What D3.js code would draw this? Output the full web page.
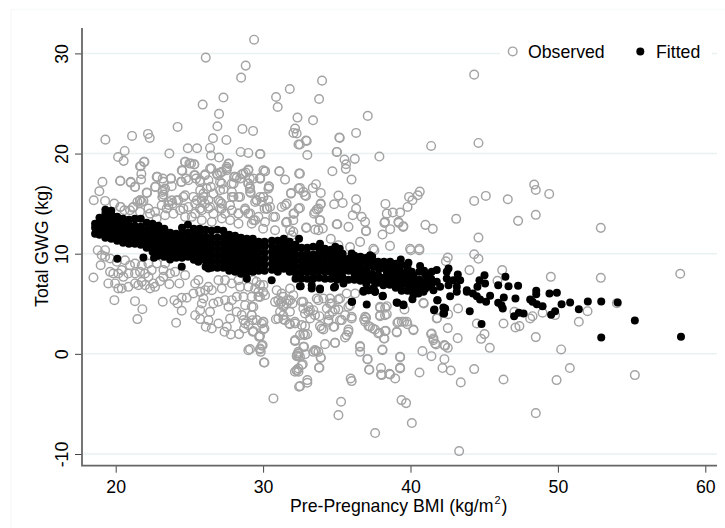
<!DOCTYPE html>
<html>
<head>
<meta charset="utf-8">
<script src="https://cdn.jsdelivr.net/npm/d3@7/dist/d3.min.js"></script>
<style>
html,body{margin:0;padding:0;background:#fff;}
svg{display:block;font-family:"Liberation Sans",Arial,sans-serif;}
</style>
</head>
<body>
<svg id="chart" width="725" height="528"></svg>
<script>
const xTicks = [20, 30, 40, 50, 60];
const yTicks = [-10, 0, 10, 20, 30];
const seriesNames = ["Observed", "Fitted"];
const xTitle = "Pre-Pregnancy BMI (kg/m";
const yTitle = "Total GWG (kg)";

const observedUpper = [
[29.39,31.37],[26.11,29.58],[28.82,28.78],[28.51,27.58],[25.9,24.89],[27.31,25.59],[27.01,23.96],[26.9,22.73],[24.2,22.66],[30.88,25.65],[30.99,24.65],[31.81,26.45],[32.33,23.59],[32.17,22.49],[32.06,22.06],[32.28,22.0],[32.4,20.9],[28.6,22.46],[29.32,22.26],[26.6,21.53],[27.51,21.36],[26.4,20.56],[24.89,20.53],[25.52,20.53],[23.64,20.0],[26.47,19.8],[27.01,19.6],[28.48,20.16],[29.0,20.06],[29.82,19.96],[19.3,21.39],[21.11,21.76],[22.19,21.96],[22.31,21.56],[20.61,20.26],[20.16,19.66],[20.54,19.27],[21.92,19.17],[21.7,18.73],[21.74,17.97],[21.72,17.4],[24.71,19.17],[25.11,19.0],[25.32,18.9],[24.52,18.27],[26.49,18.5],[27.67,18.97],[27.53,18.67],[27.53,18.33],[29.0,18.4],[28.82,18.1],[28.55,17.93],[28.21,17.57],[27.87,17.0],[30.14,18.23],[31.11,18.23],[31.49,17.4],[32.44,18.0],[32.4,16.5],[31.9,16.07],[30.4,16.74],[30.36,16.5],[29.34,17.5],[29.8,17.57],[29,17],[29.1,16.5],[29.16,16.07],[22.83,17.67],[23.19,17.5],[23.24,17.17],[23.73,17.5],[23.8,16.74],[22.71,16.67],[24.43,17.17],[24.77,17.5],[25.32,17.83],[25.45,17.5],[26.06,17.83],[25.72,17.17],[26.29,17.34],[26.45,16.67],[26.92,17.83],[27.08,18.07],[27.08,17.17],[27.31,16.44],[28.03,17.67],[19.1,17.17],[20.32,17.27],[21.02,17.17],[21.31,16.67],[18.89,16.24],[18.51,15.34],[19.28,15.27],[19.9,15.0],[20.34,14.67],[21.15,14.6],[21.47,15.17],[21.88,15.27],[21.65,15.34],[22.13,16.07],[23.19,16.34],[23.24,15.9],[23.19,15.67],[23.8,15.34],[23.58,14.87],[24.14,15.34],[24.59,15.67],[24.59,14.5],[25.27,15.67],[25.5,15.34],[25.95,15.67],[26.06,15.0],[25.72,14.5],[26.4,14.67],[27.08,15.17],[27.19,14.5],[27.76,14.84],[27.99,15.67],[28.44,15.67],[29.57,15.34],[30.02,15.67],[30.25,14.5],[30.47,14.67],[30.82,13.68],[31.49,14.84],[32.06,14.0],[31.6,13.18],[32.4,14.5],[28.77,14.34],[29,14],[29.46,13.34],[28.33,14],
[34.0,27.28],[33.8,25.45],[33.39,23.32],[37.1,23.76],[36.31,22.06],[35.2,21.56],[32.91,21.3],[41.4,20.76],[44.61,21.06],[44.32,27.88],[33.0,19.86],[35.02,20.16],[35.52,19.4],[35.63,18.93],[35.61,18.47],[36.22,19.47],[37.89,19.7],[34.7,18.23],[36.0,17.4],[32.5,18.0],[32.5,16.57],[33.59,16.94],[33.37,16.57],[33.91,16.07],[32.73,16.17],[32.91,15.77],[35.11,15.8],[34.82,14.94],[35.4,15.07],[36.31,15.44],[36.31,14.5],[33.91,15.0],[32.5,14.57],[31.26,14.67],[32.1,14.0],[33.64,14.41],[33.46,14.0],[36.08,13.84],[36.69,13.68],[36.92,13.18],[38.3,14.97],[38.39,14.0],[38.8,14.11],[39.3,14.11],[39.8,14.67],[39.9,15.67],[40.13,15.34],[40.49,15.84],[40.63,16.2],[43.1,13.48],[41.01,12.88],[41.51,12.48],[44.32,15.27],[45.11,15.77],[46.6,15.44],[48.39,16.9],[48.5,16.37],[49.41,15.97],[48.5,13.88],[47.3,13.28],[52.91,12.58],[44.61,11.61],[31.56,13.1],[32.05,13.34],[32.91,12.58],[33.87,13.34],[33.75,12.35],[33.53,12.41],[34.05,12.51],[34.99,12.94],[35.79,12.68],[36.99,12.28],[38.23,13.08],[38.62,12.45],[38.1,11.91],[39.2,13.08],[39.5,12.68],[34.59,11.48],[36.58,11.18],[31.83,12.35],[32.05,12.18],
[37.48,10.5],[38.61,10.78],[39.97,10.5],[40.6,10.5],[35.9,10.66],[39.52,12.74],[39.18,13.18],[38.27,13.18],[36.98,12.24],[32.84,15.83],[31.89,16.0],[31.1,18.23],[30.13,18.23],[29.79,17.5],[29.1,17.5],[33.9,14.94],[33.75,14.5],[33.52,14.17],[31.6,15.0],[30.69,13.67],[30.29,14.5],[30.1,14.5],[30.35,15.34],[30.01,15.67],[29.56,15.34],[30.4,16.67],[29.11,16.67],[31.6,13.17],[30.13,13.17],[29.34,13.34],[33.86,13.34],[32.95,12.61],[35.04,12.94],[30.81,12.34],[30.0,12.5],[31.94,11.84],[32.96,21.26],[32.5,20.9],[29.79,19.96],[35.17,21.6],[34.99,20.16],
[20.3,17.27],[21.02,17.1],[21.31,16.67],[21.65,18.73],[21.95,19.17],[20.3,14.67],[20.59,14.34],[21.2,14.67],[21.65,15.34],[22.1,16.1],[21.77,15.17],[22.67,16.67],[22.78,17.67],[23.76,17.5],[23.17,16.17],[23.17,15.67],[23.35,16.5],[24.48,18.33],[24.71,19.17],[25.0,19.0],[25.34,18.93],[24.48,17.17],[24.93,17.34],[25.39,17.83],[25.73,17.34],[26.4,18.5],[26.07,17.93],[26.86,18.0],[27.2,18.17],[27.65,19.0],[27.54,18.5],[25.73,16.34],[25.95,16.0],[26.18,16.5],[25.84,15.34],[26.29,15.34],[26.63,16.0],[27.2,17.0],[27.08,16.34],[26.97,15.34],[27.2,15.0],[27.88,16.17],[28.0,17.0],[28.44,17.5],[28.67,18.0],[29.0,18.33],[28.1,17.67],[30.02,18.33],[29.8,17.5],[29.0,17.0],[29.12,16.17],[29.8,15.67],[29.46,15.17],[29.91,15.17],[28.33,15.67],[27.88,15.67],
[22.22,14.51],[22.67,14.18],[23.12,14.84],[23.58,15.17],[23.85,15.0],[23.46,14.51],[24.25,15.34],[24.71,15.84],[24.37,14.34],[24.93,14.67],[25.39,15.0],[25.39,14.0],[25.84,14.34],[26.29,14.51],[26.63,14.0],[27.08,14.51],[27.42,14.0],[27.88,14.34],[28.33,14.0],[28.78,14.51],[29.12,14.0],[29.68,13.68],[29.23,13.0],[28.33,13.0],[27.76,13.34],[27.2,13.51],[26.52,13.18],[25.84,13.34],[25.16,13.68],[24.71,13.68],[23.92,14.0],[23.35,13.84],[22.78,13.51],[22.33,14.0],[21.65,14.18],[20.97,14.34]
];

const observedLower = [
[40.02,10.35],[40.6,10.35],[37.55,10.35],[35.11,10.85],[42.53,9.62],[42.4,9.25],[44.32,9.95],[44.61,9.49],[44.0,8.36],[46.22,8.36],[45.9,7.3],[49.52,7.69],[52.91,7.59],[58.3,8.0],[54.0,5.06],[52.01,4.26],[51.42,3.2],[49.81,3.87],[48.96,4.1],[48.28,3.76],[48.12,3.53],[47.39,2.77],[47.12,2.63],[47.05,4.2],[46.31,3.03],[48.5,1.67],[50.22,0.44],[45.38,0.6],[45.02,1.97],[44.79,1.5],[44.5,3.03],[43.2,1.57],[42.53,2.57],[41.81,3.57],[43.23,4.53],[42.55,3.96],[40.9,5.03],[39.59,4.43],[40.2,2.37],[39.75,3.2],[39.41,3.2],[39.11,3.1],[39.07,2.14],[38.32,2.3],[38.2,1.54],[37.89,2.1],[37.44,2.53],[37.15,2.77],[36.99,3.6],[36.85,3.43],[37.94,4.6],[38.28,4.6],[38.39,3.96],[37.94,3.76],[36.01,3.7],[35.79,2.43],[35.67,1.87],[34.88,1.1],[34.2,0.97],[36.58,0.77],[36.58,0.2],[37.1,-0.53],[38.1,0.37],[39.3,-0.33],[40.81,0.27],[41.42,-0.23],[41.4,1.97],[41.56,1.54],[41.67,1.04],[42.35,0.8],[42.53,0.6],[42.3,-0.53],[42.17,-1.42],[42.73,-1.66],[44.32,-1.52],[43.41,-2.85],[46.31,-2.56],[49.91,-2.62],[50.81,-1.42],[55.22,-2.12],[48.5,-5.92],[43.3,-9.71],[40.09,-6.91],[39.39,-4.62],[39.7,-4.92],[37.6,-7.91],[35.11,-6.12],[35.29,-4.78],[40.61,-1.86],[39.3,-1.46],[38.96,-2.46],[38.62,-2.06],[38.0,-2.06],[38.0,-1.42],[37.21,-1.59],[36.01,-2.72],[33.82,-1.39],[33.91,-0.36],[33.59,0.27],[33.41,0.2],[32.78,0.7],[32.85,-0.03],[32.39,0.2],[32.39,-0.23],[32.69,-1.03],[32.39,-1.46],[32.28,-1.69],[33.0,-2.89],[32.51,-3.22],[32.17,1.3],[32.73,1.97],[33.0,1.97],[32.85,2.77],[32.62,2.87],[32.17,3.03],[31.78,3.03],[31.38,3.43],[34.09,2.43],[33.86,2.77],[34.77,2.7],[34.43,3.37],[34.72,4.2],[35.11,4.43],[35.34,3.37],[33.82,3.76],[33.41,4.36],[33.07,4.2],[33.19,3.53],[32.62,5.2],[32.73,4.53],[31.83,6.53],[32.05,5.86],[31.83,5.36],[31.6,5.03],[31.26,5.2],[31.38,4.7],[31.15,4.2],[34.09,5.53],[33.64,5.53],[34.54,5.53],[35.22,5.53],[34.66,5.03],[34.32,4.53],[35.9,4.86],
[31.03,5.36],[31.37,5.7],[31.71,5.36],[31.37,4.86],[31.15,5.03],[31.26,6.03],[30.92,6.36],[30.81,5.19],[32.0,5.03],[31.82,4.2],[31.37,3.86],[31.03,3.53],[30.87,3.46],[31.49,3.36],[32.16,3.2],[31.82,2.96],[29.56,7.19],[29.79,6.86],[29.34,7.36],[30.01,6.19],[29.68,6.19],[29.79,5.69],[30.13,5.86],[29.22,5.69],[29.34,4.69],[29.22,3.86],[29.29,3.36],[30.01,3.2],[30.01,2.43],[29.34,2.27],[29.79,1.77],[29.97,0.87],[29.79,0.44],[29.11,0.47],[30.06,-0.86],[33.18,4.36],[32.84,4.03],[33.07,4.69],[33.52,3.86],[32.73,5.19],[33.75,5.36],[34.54,5.03],[35.1,5.43],[34.88,4.43],[34.49,3.86],[34.43,3.2],[33.97,2.53],[34.83,2.7],[35.22,3.36],[35.56,3.86],[36.01,3.53],[35.56,1.63],[35.78,2.2],[34.88,1.1],[32.16,1.3],[32.84,1.87],[32.5,1.87],[32.73,0.7],[32.39,0.04],[33.52,0.37],[33.75,0.2],[33.91,-0.4],[32.5,-0.3],[32.28,-0.23],[32.62,-1.12],[33.79,-1.36],[32.16,-1.79],[33.0,-2.62],[36.58,0.7],[37.07,-0.53],[37.19,-1.56],[38.09,0.44],[39.29,-0.3],[39.29,-1.36],[38.05,-2.12],[38.57,-2.0],[35.94,-2.46],[36.92,3.7],[36.92,3.2],[37.25,2.7],[37.59,2.43],[37.82,2.03],[38.27,2.27],[38.23,1.53],[39.06,2.2],[39.18,3.2],[39.56,3.2],[39.79,2.96],[40.2,2.43],[41.44,2.03],[41.55,1.37],[41.73,0.94],[42.3,0.87],[41.78,3.53],[40.87,5.09],[37.93,4.7],[38.39,4.76],[38.27,3.86],[37.93,3.86],[35.78,4.7],[35.67,6.03],[36.24,6.03],
[18.49,7.62],[18.98,8.85],[18.78,10.35],[19.05,9.85],[19.28,10.35],[19.5,7.03],[19.91,5.36],[21.31,5.26],[21.81,4.46],[21.47,3.47],[23.19,5.2],[24.1,3.1],[24.48,4.3],[24.2,5.03],[23.98,5.36],[24.48,5.6],[24.82,5.6],[23.64,6.96],[24.32,7.03],[23.01,7.26],[20.18,6.53],[20.41,6.53],[20.86,6.69],[19.96,7.03],[19.84,8.02],[20.18,8.02],[20.52,7.69],[20.86,8.02],[21.31,8.02],[21.65,8.19],[21.99,8.02],[22.44,8.36],[22.22,7.69],[21.77,7.19],[21.54,6.86],[21.99,6.86],[22.56,7.03],[22.67,6.69],[22.33,6.53],[21.31,7.03],[20.97,8.85],[20.41,8.36],[19.62,8.19],[20.07,9.19],[20.63,9.35],[19.62,9.52],[19.28,9.69],[23.24,8.36],[23.69,8.02],[24.03,8.19],[23.24,7.69],[24.71,7.86],[21.31,9.02],[21.77,8.85],[22.22,9.02],[22.78,9.02],[23.35,9.02],
[25.39,7.03],[25.73,6.19],[25.27,6.03],[26.07,6.36],[25.95,5.53],[25.84,5.03],[25.73,4.36],[25.39,3.86],[25.73,3.47],[26.4,4.2],[26.29,3.37],[26.11,2.7],[26.52,2.53],[26.97,3.03],[27.54,2.7],[27.38,2.2],[27.76,3.53],[27.81,1.94],[28.37,1.97],[29.0,2.87],[28.67,3.37],[28.71,2.53],[29.3,2.2],[29.73,1.7],[29.91,3.03],[29.0,0.37],[29.8,0.54],[29.84,0.2],[26.52,6.36],[26.97,5.2],[27.42,5.36],[27.88,5.36],[27.65,4.7],[28.21,4.2],[28.78,4.86],[29.23,4.7],[29.23,3.87],[29.68,5.7],[29.0,6.69],[27.2,6.53],[27.88,7.03],[28.44,6.69],[29.46,6.53],[30.02,6.86],[26.97,7.36],[27.42,7.36],[28.33,7.36],[28.67,5.7],[26.63,5.03],[28.21,5.7],[26.29,6.69],[25.61,7.36],[28.55,3.87],[29.57,3.37],[28.78,3.03],
[29.75,1.77],[30.02,3.2],[30.09,2.53],[32.17,1.37],[32.29,-0.13],[29.91,0.81],[30.09,-0.86],[30.7,-4.45],[32.4,0.04],[32.28,-1.62],[32.4,-1.79],[32.44,-3.28]
];

const fittedScatter = [
[58.35,1.7],[55.22,3.33],[52.94,1.64],[54.05,5.13],[52.94,5.23],[52.03,5.23],[51.42,4.46],[50.83,5.13],[50.25,4.96],[49.93,6.09],[49.43,6.03],[49.81,4.26],[49.54,3.9],[48.96,4.76],[48.57,4.96],[48.28,5.2],[48.12,5.43],[48.53,6.29],[48.53,5.96],[47.67,4.03],[47.35,4.1],[47.03,3.76],[47.3,6.79],[46.65,6.76],[46.44,7.69],[45.95,6.86],[46.33,5.63],[47.12,5.53],[45.95,5.1],[46.17,4.86],[46.26,4.53],[44.82,2.97],[44.02,4.26],[45.4,5.79],[45.13,5.2],[44.72,5.43],[44.5,5.76],[44.23,6.03],[45.06,7.03],[44.54,6.69],[44.68,7.36],[45.02,7.86],[43.82,6.19],[43.14,6.19],[42.69,5.76],[43.37,7.36],[43.21,7.92],[43.14,6.69],[42.58,6.86],[42.46,7.52],[42.46,8.19],[42.58,8.52],[41.78,8.36],[41.44,8.19],[42.35,4.53],[42.28,4.03],[41.6,4.36],[41.83,5.36],[41.56,6.36],[41.44,7.03],[41.22,7.69],[40.92,8.29],[40.65,8.76],[40.88,6.19],[40.54,6.03],[40.13,5.46],[40.2,6.53],[39.86,6.86],[40.09,8.19],[39.86,9.09],[39.34,9.42],[39.25,8.52],[39.07,7.69],[39.57,7.03],[39.52,4.86],[39.11,5.1],[38.12,5.79],[37.6,6.19],[37.15,6.36],[36.81,6.19],[37.03,4.93],[36.04,5.2],[38.16,6.86],[38.62,9.19],[38.39,8.19],[37.94,8.52],[37.26,9.85],[36.92,9.35],[36.01,10.02],[36.24,7.69],[35.45,7.03],[34.88,6.69],[33.86,6.43],[33.3,6.86],[32.55,6.76],[41.1,7.03],[40.65,7.03],[40.2,7.36],[39.75,7.69],[39.3,7.03],[38.84,7.36],[38.84,8.36],[38.39,7.36],[37.94,7.36],[37.48,7.36],[37.03,8.02],[36.58,8.02],[36.13,8.69],[35.67,9.35],[37.48,8.69],[37.03,9.02],[35.22,9.69],[34.77,10.35],[40.43,6.36],[41.78,7.19],[42.01,6.69],[42.91,7.36],[43.82,6.36],[36.6,7.4],[37,7.0],[37.5,6.6],[30.58,7.36],[32.5,6.76],[33.3,6.52],[33.86,6.52],[34.81,6.62],[36.01,5.19],[36.8,6.29],[37.14,6.36],[37.59,6.19],[38.11,5.76],[39.06,5.13],[39.52,4.93],[41.82,5.36],[41.62,4.43],[42.23,4.63],[42.23,4.03],[20.11,9.49],[21.88,9.62],[22.6,9.6],[23.69,9.42],[24.48,8.69],[25.61,9.19],[26.29,8.52],[32.44,11.5],[33.86,11.0],[34.9,10.7],[35.2,10.5]
];

const fittedBand = [
[18.6,12.0],[18.6,12.6],[18.6,13.0],[18.9,11.9],[18.9,12.5],[18.9,13.1],[18.9,13.6],
[19.3,11.6],[19.3,12.2],[19.3,12.8],[19.3,13.4],[19.3,14.0],[19.3,14.4],[19.7,11.5],[19.7,12.1],[19.7,12.7],[19.7,13.3],[19.7,13.9],[19.7,14.3],
[20.1,11.3],[20.1,11.9],[20.1,12.5],[20.1,13.1],[20.1,13.7],[20.5,11.1],[20.5,11.7],[20.5,12.3],[20.5,12.9],[20.5,13.5],[20.9,11.0],[20.9,11.6],[20.9,12.2],[20.9,12.8],[20.9,13.4],
[21.3,11.0],[21.3,11.6],[21.3,12.2],[21.3,12.8],[21.3,13.5],[21.7,10.9],[21.7,11.5],[21.7,12.1],[21.7,12.7],[21.7,13.5],[22.1,10.6],[22.1,11.2],[22.1,11.8],[22.1,12.4],[22.1,13.1],
[22.5,10.2],[22.5,10.8],[22.5,11.4],[22.5,12.0],[22.5,12.6],[22.5,13.0],[22.9,9.8],[22.9,10.4],[22.9,11.0],[22.9,11.6],[22.9,12.2],[22.9,12.8],[23.3,9.7],[23.3,10.3],[23.3,10.9],[23.3,11.5],[23.3,12.1],[23.3,12.5],
[23.7,10.0],[23.7,10.6],[23.7,11.2],[23.7,11.8],[23.7,12.1],[24.1,9.6],[24.1,10.2],[24.1,10.8],[24.1,11.4],[24.1,12.0],[24.5,9.6],[24.5,10.2],[24.5,10.8],[24.5,11.4],[24.5,12.0],[24.5,12.6],
[24.9,9.7],[24.9,10.3],[24.9,10.9],[24.9,11.5],[24.9,12.1],[24.9,12.9],[25.3,9.4],[25.3,10.0],[25.3,10.6],[25.3,11.2],[25.3,11.8],[25.3,12.5],[25.7,9.7],[25.7,10.3],[25.7,10.9],[25.7,11.5],[25.7,12.1],[25.7,12.5],
[26.1,8.7],[26.1,9.3],[26.1,9.9],[26.1,10.5],[26.1,11.1],[26.1,11.7],[26.1,12.4],[26.5,8.6],[26.5,9.2],[26.5,9.8],[26.5,10.4],[26.5,11.0],[26.5,11.6],[26.5,12.3],[26.9,8.6],[26.9,9.2],[26.9,9.8],[26.9,10.4],[26.9,11.0],[26.9,11.6],[26.9,12.4],
[27.3,8.6],[27.3,9.2],[27.3,9.8],[27.3,10.4],[27.3,11.0],[27.3,11.6],[27.3,12.3],[27.7,8.3],[27.7,8.9],[27.7,9.5],[27.7,10.1],[27.7,10.7],[27.7,11.3],[27.7,11.9],[28.1,8.2],[28.1,8.8],[28.1,9.4],[28.1,10.0],[28.1,10.6],[28.1,11.2],[28.1,11.8],
[28.5,8.0],[28.5,8.6],[28.5,9.2],[28.5,9.8],[28.5,10.4],[28.5,11.0],[28.5,11.6],[28.9,7.5],[28.9,8.1],[28.9,8.7],[28.9,9.3],[28.9,9.9],[28.9,10.5],[28.9,11.1],[28.9,11.5],[29.3,8.2],[29.3,8.8],[29.3,9.4],[29.3,10.0],[29.3,10.6],[29.3,11.1],[29.3,11.5],
[29.7,8.3],[29.7,8.9],[29.7,9.5],[29.7,10.1],[29.7,10.7],[29.7,11.2],[30.1,8.3],[30.1,8.9],[30.1,9.5],[30.1,10.1],[30.1,10.7],[30.1,11.2],[30.6,8.4],[30.6,9.0],[30.6,9.6],[30.6,10.2],[30.6,10.8],[30.6,11.3],
[31.0,8.2],[31.0,8.8],[31.0,9.4],[31.0,10.0],[31.0,10.6],[31.0,11.3],[31.4,8.5],[31.4,9.1],[31.4,9.7],[31.4,10.3],[31.4,10.9],[31.4,11.5],[31.8,8.2],[31.8,8.8],[31.8,9.4],[31.8,10.0],[31.8,10.6],[31.8,11.2],
[32.2,7.5],[32.2,8.1],[32.2,8.7],[32.2,9.3],[32.2,9.9],[32.2,10.5],[32.2,10.9],[32.6,7.5],[32.6,8.1],[32.6,8.7],[32.6,9.3],[32.6,9.9],[32.6,10.6],[33.0,7.5],[33.0,8.2],[33.0,8.8],[33.0,9.4],[33.0,10.0],[33.0,10.6],
[33.4,7.5],[33.4,8.1],[33.4,8.7],[33.4,9.3],[33.4,9.9],[33.4,10.7],[33.8,7.6],[33.8,8.3],[33.8,8.9],[33.8,9.5],[33.8,10.1],[33.8,10.6],[34.2,7.5],[34.2,8.2],[34.2,8.8],[34.2,9.4],[34.2,10.0],[34.2,10.5],
[34.6,7.5],[34.6,8.2],[34.6,8.8],[34.6,9.4],[34.6,10.0],[34.6,10.4],[35.0,7.4],[35.0,7.8],[35.0,8.4],[35.0,9.0],[35.0,9.6],[35.0,10.2],[35.4,7.6],[35.4,8.2],[35.4,8.8],[35.4,9.4],[35.4,10.0],[35.8,7.4],[35.8,8.3],[35.8,8.9],[35.8,9.5],[36.2,7.4],[36.2,8.0],[36.2,8.6],[36.2,9.2],[36.2,9.8],
[36.6,7.3],[36.6,7.9],[36.6,8.5],[36.6,9.1],[36.6,9.7],[37.0,7.3],[37.0,7.9],[37.0,8.5],[37.0,9.6],[37.4,7.4],[37.4,8.0],[37.4,9.2],[37.4,9.7],[37.8,7.1],[37.8,7.9],[37.8,8.6],[37.8,9.2],
[38.2,7.0],[38.2,7.6],[38.2,8.8],[38.2,9.2],[38.6,6.9],[38.6,7.5],[38.6,8.0],[38.6,8.7],[38.6,9.0],[39.0,6.6],[39.0,7.2],[39.0,7.9],[39.0,9.0],[39.4,6.3],[39.4,6.9],[39.4,7.6],[39.4,8.1],[39.4,8.9],
[39.8,6.3],[39.8,7.3],[39.8,8.0],[39.8,8.6],[40.2,5.9],[40.2,6.9],[40.2,7.8],[40.6,6.6],[40.6,7.4],[40.6,8.2],[41.0,6.5],[41.0,7.2],[41.0,7.9],[41.4,6.7],[41.4,7.5]
];

const observed = observedUpper.concat(observedLower);
const fitted = fittedBand.concat(fittedScatter);

const svg = d3.select("#chart");
const FONT = 17.7, GREY = "#a3a3a3", AXIS = "#666666", INK = "#000000";
const x = d3.scaleLinear().domain([20, 60]).range([115.7, 705.3]);
const y = d3.scaleLinear().domain([-10, 30]).range([454, 53.4]);
const plotLeft = 82, plotRight = 717, plotTop = 28, plotBottom = 465.7;

// faint outer frame of the photographed figure
svg.append("path").attr("d", "M11,528V9.5H725").attr("fill", "none").attr("stroke", "#f8f9f9").attr("stroke-width", 1.5);

// gridlines
svg.append("g").selectAll("line").data(yTicks).join("line")
  .attr("x1", plotLeft).attr("x2", plotRight)
  .attr("y1", d => y(d)).attr("y2", d => y(d))
  .attr("stroke", "#e9f1f3").attr("stroke-width", 1.5);

// axes
const gx = svg.append("g").attr("transform", `translate(0,${plotBottom})`)
  .call(d3.axisBottom(x).tickValues(xTicks).tickSize(7).tickPadding(8).tickFormat(String));
const gy = svg.append("g").attr("transform", `translate(${plotLeft},0)`)
  .call(d3.axisLeft(y).tickValues(yTicks).tickSize(7).tickPadding(0).tickFormat(String));
[gx, gy].forEach(g => {
  g.select(".domain").remove();
  g.selectAll(".tick line").attr("stroke", "#444").attr("stroke-width", 1);
  g.selectAll("text").attr("font-size", FONT).attr("fill", INK).attr("font-family", "Liberation Sans, Arial, sans-serif");
});
gy.selectAll("text").attr("x", null).attr("dy", null).attr("text-anchor", "middle")
  .attr("transform", "translate(-14,0) rotate(-90)");
svg.append("path").attr("d", `M${plotLeft},${plotTop}V${plotBottom}H${plotRight}`)
  .attr("fill", "none").attr("stroke", AXIS).attr("stroke-width", 1.8);

// marks
svg.append("g").selectAll("circle").data(observed).join("circle")
  .attr("cx", d => x(d[0])).attr("cy", d => y(d[1])).attr("r", 4.3)
  .attr("fill", "none").attr("stroke", GREY).attr("stroke-width", 1.45);
svg.append("g").selectAll("circle").data(fitted).join("circle")
  .attr("cx", d => x(d[0])).attr("cy", d => y(d[1])).attr("r", 4)
  .attr("fill", "#000");

// legend
const legend = svg.append("g");
legend.append("rect").attr("x", 500).attr("y", 40).attr("width", 212).attr("height", 24).attr("fill", "#fff");
legend.append("circle").attr("cx", 512.7).attr("cy", 51.4).attr("r", 4.3)
  .attr("fill", "none").attr("stroke", GREY).attr("stroke-width", 1.45);
legend.append("text").attr("x", 528).attr("y", 57.7).attr("font-size", FONT).text(seriesNames[0]);
legend.append("circle").attr("cx", 640.3).attr("cy", 51.4).attr("r", 4).attr("fill", "#000");
legend.append("text").attr("x", 656).attr("y", 57.7).attr("font-size", FONT).text(seriesNames[1]);

// titles
const xt = svg.append("text").attr("x", 290).attr("y", 512).attr("font-size", FONT).text(xTitle);
xt.append("tspan").attr("font-size", 11).attr("dy", -8).attr("dx", 1).text("2");
xt.append("tspan").attr("dy", 8).attr("dx", 1).text(")");
svg.append("text").attr("transform", "translate(48,246) rotate(-90)")
  .attr("text-anchor", "middle").attr("font-size", FONT).text(yTitle);
</script>
</body>
</html>
